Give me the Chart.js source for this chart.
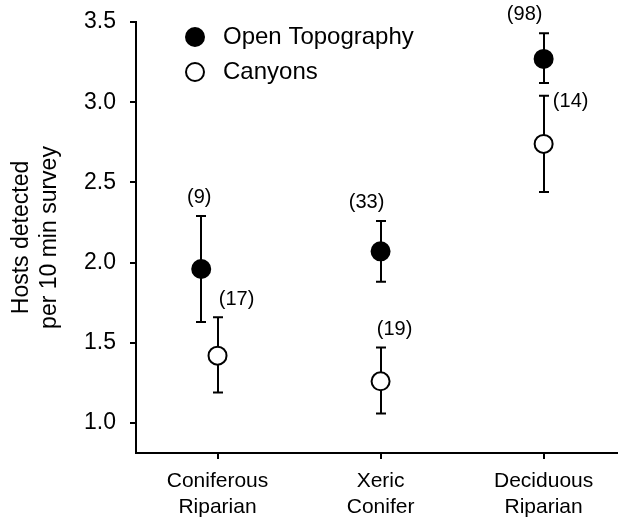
<!DOCTYPE html>
<html lang="en">
<head>
<meta charset="UTF-8">
<title>Hosts detected per 10 min survey</title>
<script src="https://cdn.jsdelivr.net/npm/chart.js"></script>
<style>
  html, body { margin: 0; padding: 0; background: #fff; }
  canvas { display: block; }
</style>
</head>
<body>
<canvas id="chart" width="628" height="522"></canvas>
<script>
    // habitat types on the x axis
    const habitats = [['Coniferous', 'Riparian'], ['Xeric', 'Conifer'], ['Deciduous', 'Riparian']];
    const habitatPos = [1, 2, 3];
    const openShift = [-0.1, 0, 0];   // filled marker nudged left at first habitat

    // Open topography (filled circles)
    const openMean = [1.96, 2.07, 3.27];
    const openLow  = [1.63, 1.88, 3.12];
    const openHigh = [2.29, 2.26, 3.43];
    const openN    = [9, 33, 98];

    // Canyons (open circles)
    const canyonMean = [1.42, 1.26, 2.74];
    const canyonLow  = [1.19, 1.06, 2.44];
    const canyonHigh = [1.66, 1.47, 3.04];
    const canyonN    = [17, 19, 14];

    const yTicks = [1.0, 1.5, 2.0, 2.5, 3.0, 3.5];

    // where the sample-size labels sit, in px from the top of each error bar
    const openLabelOff   = [[-2, -19], [-14, -18], [-19, -19]];
    const canyonLabelOff = [[19, -18], [14, -18], [27, 6]];

    const FONT = "'Liberation Sans', Arial, sans-serif";

    const openPts = habitatPos.map((p, i) => ({
        x: p + openShift[i], y: openMean[i], lo: openLow[i], hi: openHigh[i], n: openN[i], off: openLabelOff[i]
    }));
    const canyonPts = habitatPos.map((p, i) => ({
        x: p, y: canyonMean[i], lo: canyonLow[i], hi: canyonHigh[i], n: canyonN[i], off: canyonLabelOff[i]
    }));

    // error bars behind the markers, sample sizes on top
    const errorBars = {
        id: 'errorBars',
        beforeDatasetsDraw(chart) {
            const { ctx, scales: { x, y } } = chart;
            ctx.save();
            ctx.strokeStyle = '#000';
            ctx.lineWidth = 2;
            chart.data.datasets.forEach(ds => {
                ds.data.forEach(p => {
                    const px = Math.round(x.getPixelForValue(p.x));
                    const top = y.getPixelForValue(p.hi);
                    const bot = y.getPixelForValue(p.lo);
                    ctx.beginPath();
                    ctx.moveTo(px, top); ctx.lineTo(px, bot);
                    ctx.moveTo(px - 5, top); ctx.lineTo(px + 5, top);
                    ctx.moveTo(px - 5, bot); ctx.lineTo(px + 5, bot);
                    ctx.stroke();
                });
            });
            ctx.restore();
        },
        afterDatasetsDraw(chart) {
            const { ctx, scales: { x, y } } = chart;
            ctx.save();
            ctx.fillStyle = '#000';
            ctx.font = '20px ' + FONT;
            ctx.textAlign = 'center';
            ctx.textBaseline = 'middle';
            chart.data.datasets.forEach(ds => {
                ds.data.forEach(p => {
                    const px = x.getPixelForValue(p.x) + p.off[0];
                    const py = y.getPixelForValue(p.hi) + p.off[1];
                    ctx.fillText('(' + p.n + ')', px, py);
                });
            });
            ctx.restore();
        }
    };

    // legend in the top-left corner of the plot
    const cornerLegend = {
        id: 'cornerLegend',
        afterDraw(chart) {
            const { ctx, chartArea } = chart;
            const lx = chartArea.left + 59;
            const ly = chartArea.top + 15;
            ctx.save();
            ctx.font = '24px ' + FONT;
            ctx.textBaseline = 'middle';
            chart.data.datasets.forEach((ds, i) => {
                const cy = ly + i * 35;
                ctx.beginPath();
                ctx.arc(lx, cy, 9, 0, Math.PI * 2);
                ctx.fillStyle = ds.pointBackgroundColor;
                ctx.fill();
                ctx.lineWidth = 2;
                ctx.strokeStyle = '#000';
                ctx.stroke();
                ctx.fillStyle = '#000';
                ctx.fillText(ds.label, lx + 28, cy);
            });
            ctx.restore();
        }
    };

    new Chart(document.getElementById('chart'), {
        type: 'scatter',
        data: {
            datasets: [{
                label: 'Open Topography',
                data: openPts,
                pointBackgroundColor: '#000',
                pointBorderColor: '#000',
                pointBorderWidth: 2,
                pointRadius: 9,
                pointHoverRadius: 9
            }, {
                label: 'Canyons',
                data: canyonPts,
                pointBackgroundColor: '#fff',
                pointBorderColor: '#000',
                pointBorderWidth: 2,
                pointRadius: 9,
                pointHoverRadius: 9
            }]
        },
        options: {
            responsive: false,
            animation: false,
            layout: { padding: { top: 22, right: 0, left: 0, bottom: 0 } },
            plugins: {
                legend: { display: false },
                tooltip: { enabled: false }
            },
            scales: {
                x: {
                    type: 'linear',
                    min: 0.5,
                    max: 3.45,
                    afterBuildTicks: s => { s.ticks = habitatPos.map(v => ({ value: v })); },
                    afterFit: s => { s.height = 69; s.paddingLeft = 0; s.paddingRight = 0; },
                    grid: { drawOnChartArea: false, color: '#000', lineWidth: 2, tickLength: 6 },
                    border: { color: '#000', width: 2 },
                    ticks: {
                        color: '#000',
                        font: { family: FONT, size: 21 },
                        padding: 10,
                        maxRotation: 0,
                        callback: v => habitats[habitatPos.indexOf(v)]
                    }
                },
                y: {
                    min: 0.813,
                    max: 3.5,
                    afterBuildTicks: s => { s.ticks = yTicks.map(v => ({ value: v })); },
                    afterFit: s => { s.width = 136; s.paddingTop = 0; s.paddingBottom = 0; },
                    grid: { drawOnChartArea: false, color: '#000', lineWidth: 2, tickLength: 6 },
                    border: { color: '#000', width: 2 },
                    ticks: {
                        color: '#000',
                        font: { family: FONT, size: 23 },
                        padding: 14,
                        callback: v => v.toFixed(1)
                    },
                    title: {
                        display: true,
                        text: ['Hosts detected', 'per 10 min survey'],
                        color: '#000',
                        font: { family: FONT, size: 23, lineHeight: 1.2 },
                        padding: { top: 8, bottom: 0 }
                    }
                }
            }
        },
        plugins: [errorBars, cornerLegend]
    });
</script>
</body>
</html>
